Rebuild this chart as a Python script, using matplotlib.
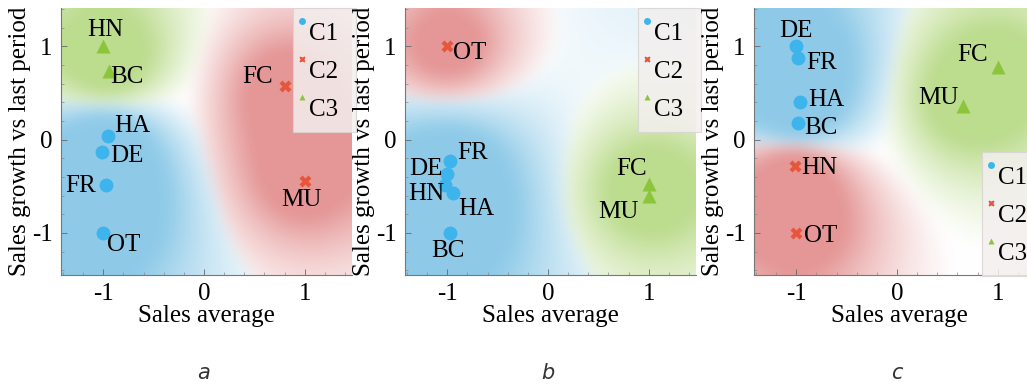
import numpy as np
import matplotlib.pyplot as plt
import matplotlib.transforms as mtransforms
from matplotlib.patches import Rectangle

plt.rcParams['font.family'] = ['Liberation Serif', 'DejaVu Serif']
plt.rcParams['axes.unicode_minus'] = False

# cluster ids: 0 = C1 (blue), 1 = C2 (red), 2 = C3 (green)
names_a = ['HN', 'BC', 'HA', 'DE', 'FR', 'OT', 'FC', 'MU']
x_a = [-1.0, -0.94, -0.95, -1.01, -0.97, -1.0, 0.8, 1.0]
y_a = [1.0, 0.73, 0.04, -0.13, -0.49, -1.0, 0.57, -0.44]
cl_a = [2, 2, 0, 0, 0, 0, 1, 1]

names_b = ['OT', 'FR', 'DE', 'HN', 'HA', 'BC', 'FC', 'MU']
x_b = [-1.0, -0.97, -1.0, -1.02, -0.94, -0.97, 1.0, 1.0]
y_b = [1.0, -0.23, -0.37, -0.49, -0.57, -1.0, -0.48, -0.6]
cl_b = [1, 0, 0, 0, 0, 0, 2, 2]

names_c = ['DE', 'FR', 'HA', 'BC', 'HN', 'OT', 'FC', 'MU']
x_c = [-1.0, -0.98, -0.96, -0.98, -1.01, -1.0, 1.0, 0.66]
y_c = [1.0, 0.87, 0.40, 0.18, -0.28, -1.0, 0.78, 0.36]
cl_c = [0, 0, 0, 0, 1, 1, 2, 2]

cluster_names = ['C1', 'C2', 'C3']
panel_letters = ['a', 'b', 'c']

# label offsets (pixels) for each point name
off_a = [(2, 16), (18, -6), (24, 10), (25, -4), (-26, -1), (20, -12), (-27, 9), (-3, -19)]
off_b = [(22, -7), (22, 8), (-21, 5), (-19, -9), (23, -16), (-2, -18), (-17, 15), (-30, -16)]
off_c = [(0, 15), (23, -5), (26, 2), (23, -5), (24, -2), (24, -3), (-25, 12), (-25, 8)]

mk_color = ['#3db4ec', '#e8553d', '#8cc43c']
bg_color = np.array([[142, 202, 232], [229, 150, 150], [188, 220, 142]]) / 255.0
markers = ['o', 'X', '^']
msize = [10, 9, 10]

W, H = 1027, 386
xlim = (-1.42, 1.47)
ylim = (-1.45, 1.41)


def kern(d2, ls):
    # laplacian kernel, heavier tail than a gaussian
    return np.exp(-np.sqrt(d2) / ls)


def blur(img, sigma=7):
    r = int(3 * sigma)
    g = np.exp(-np.arange(-r, r + 1) ** 2 / (2 * sigma ** 2))
    g /= g.sum()
    out = img.copy()
    for axis in (0, 1):
        pad = [(0, 0)] * 3
        pad[axis] = (r, r)
        p = np.pad(out, pad, mode='edge')
        out = np.apply_along_axis(lambda v: np.convolve(v, g, mode='valid'), axis, p)
    return out


def field(px, py, cl, ls=0.75, lam=0.02, n=300):
    # kernel ridge regression on one-hot labels -> class probabilities on a grid
    P = np.column_stack([px, py])
    Y = np.eye(3)[cl]
    m = 0.5 * Y.mean(axis=0) + 0.5 / 3
    d2 = ((P[:, None, :] - P[None, :, :]) ** 2).sum(-1)
    alpha = np.linalg.solve(kern(d2, ls) + lam * np.eye(len(P)), Y - m)
    gx, gy = np.meshgrid(np.linspace(*xlim, n), np.linspace(*ylim, n))
    G = np.column_stack([gx.ravel(), gy.ravel()])
    dg = ((G[:, None, :] - P[None, :, :]) ** 2).sum(-1)
    Kg = kern(dg, ls)
    F = np.clip(m + Kg @ alpha, 1e-3, None)
    prob = F / F.sum(axis=1, keepdims=True)
    best = prob.argmax(axis=1)
    dens = 1 - np.exp(-Kg.sum(axis=1) / 0.15)
    t = np.clip((prob.max(axis=1) - 0.35) / 0.34, 0, 1) ** 0.9 * dens
    rgb = (1 - t[:, None]) * 1.0 + t[:, None] * bg_color[best]
    return blur(rgb.reshape(n, n, 3))


def draw_legend(ax, ax_x, ax_y):
    tr = mtransforms.Affine2D() + mtransforms.ScaledTranslation(ax_x, ax_y, ax.transAxes)
    ax.add_patch(Rectangle((0, -124), 63, 124, transform=tr, facecolor='#f3efee',
                           edgecolor='#d8d4d4', lw=0.8, alpha=0.85, zorder=5, clip_on=False))
    for i in range(3):
        ax.plot([9], [-13 - 38 * i], marker=markers[i], color=mk_color[i], ms=5,
                mec='none', transform=tr, zorder=6, clip_on=False)
        ax.text(16, -26 - 38 * i, cluster_names[i], transform=tr, fontsize=18,
                va='center', ha='left', zorder=6, clip_on=False)


fig = plt.figure(figsize=(W / 100, H / 100), dpi=100)

panels = [(names_a, x_a, y_a, cl_a, off_a), (names_b, x_b, y_b, cl_b, off_b),
          (names_c, x_c, y_c, cl_c, off_c)]
ax_left = [61, 405, 754]
legend_pos = [(0.797, 1.0), (0.80, 1.0), (0.783, 0.461)]

for k, (nm, px, py, cl, off) in enumerate(panels):
    ax = fig.add_axes([ax_left[k] / W, (H - 275) / H, 291 / W, 267 / H])
    ax.imshow(field(px, py, np.array(cl)), extent=(*xlim, *ylim), origin='lower',
              aspect='auto', interpolation='bilinear', zorder=0)
    for c in range(3):
        sel = [i for i in range(len(px)) if cl[i] == c]
        ax.plot([px[i] for i in sel], [py[i] for i in sel], ls='none', marker=markers[c],
                color=mk_color[c], ms=msize[c], mec='none', zorder=3)
    for i in range(len(px)):
        ax.annotate(nm[i], (px[i], py[i]), xytext=off[i], textcoords='offset pixels',
                    fontsize=18, ha='center', va='center', zorder=4)
    ax.set_xlim(xlim)
    ax.set_ylim(ylim)
    ax.set_xticks([-1, 0, 1])
    ax.set_yticks([-1, 0, 1])
    ax.set_xticks(np.arange(-1.4, 1.5, 0.2), minor=True)
    ax.set_yticks(np.arange(-1.4, 1.5, 0.2), minor=True)
    ax.tick_params(direction='in', labelsize=18, length=4, width=0.6, color='#666666', pad=6)
    ax.tick_params(which='minor', direction='in', length=2, width=0.5, color='#888888')
    for s in ['top', 'right']:
        ax.spines[s].set_visible(False)
    for s in ['left', 'bottom']:
        ax.spines[s].set_color('#777777')
        ax.spines[s].set_linewidth(0.8)
    ax.set_xlabel('Sales average', fontsize=18, labelpad=0)
    ax.set_ylabel('Sales growth vs last period', fontsize=18, labelpad=0.5)
    draw_legend(ax, *legend_pos[k])
    x0 = (ax_left[k] + 291 * (0 - xlim[0]) / (xlim[1] - xlim[0])) / W
    fig.text(x0, 0.034, panel_letters[k], fontsize=15, style='italic',
             family='DejaVu Sans', color='#333333', ha='center', va='center')

fig.savefig('out.png', dpi=100)
